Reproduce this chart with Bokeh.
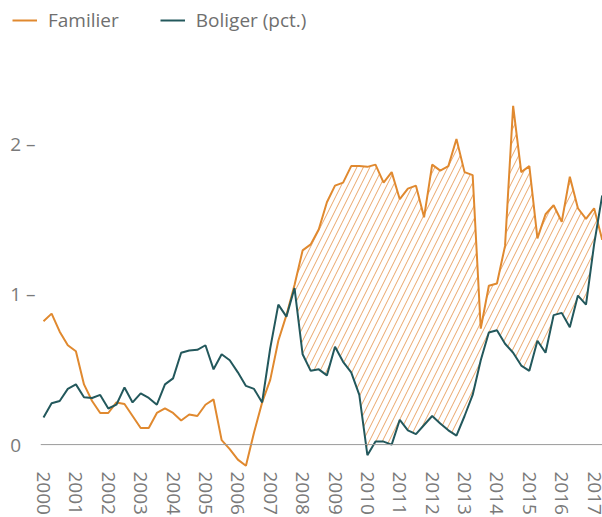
import math
from bokeh.plotting import figure
from bokeh.layouts import column
from bokeh.models import (Legend, LegendItem, Span, FixedTicker, Range1d,
                          ColumnDataSource)
from bokeh.embed import file_html
from bokeh.resources import INLINE

# ---- data (quarterly, 2000 Q1 .. 2017 Q2) ----
years = list(range(2000, 2018))
familier = [0.82, 0.87, 0.75, 0.66, 0.62, 0.40, 0.29, 0.21,
            0.21, 0.28, 0.27, 0.19, 0.11, 0.11, 0.21, 0.24,
            0.21, 0.16, 0.20, 0.19, 0.265, 0.30, 0.03, -0.03,
            -0.10, -0.14, 0.08, 0.28, 0.43, 0.69, 0.86, 1.06,
            1.29, 1.33, 1.43, 1.61, 1.72, 1.74, 1.85, 1.85,
            1.845, 1.86, 1.74, 1.81, 1.63, 1.70, 1.72, 1.51,
            1.86, 1.82, 1.85, 2.03, 1.81, 1.79, 0.77, 1.055,
            1.07, 1.32, 2.25, 1.81, 1.85, 1.37, 1.53, 1.59,
            1.48, 1.78, 1.57, 1.50, 1.57, 1.36]
boliger = [0.18, 0.275, 0.29, 0.37, 0.40, 0.315, 0.31, 0.33,
           0.24, 0.265, 0.38, 0.28, 0.34, 0.31, 0.265, 0.40,
           0.44, 0.61, 0.625, 0.63, 0.66, 0.50, 0.60, 0.56,
           0.48, 0.39, 0.37, 0.28, 0.64, 0.93, 0.85, 1.04,
           0.60, 0.49, 0.50, 0.46, 0.65, 0.55, 0.48, 0.33,
           -0.07, 0.02, 0.02, 0.00, 0.165, 0.095, 0.07, 0.13,
           0.19, 0.14, 0.095, 0.06, 0.19, 0.33, 0.56, 0.745,
           0.76, 0.67, 0.61, 0.525, 0.49, 0.69, 0.61, 0.86,
           0.875, 0.78, 0.99, 0.93, 1.33, 1.655]
quarters = [2000 + i / 4 for i in range(len(familier))]
series_names = ["Familier", "Boliger (pct.)"]
y_labels = {0: "0\u2002\u00a0", 1: "1 \u2013", 2: "2 \u2013"}
hatch_from = 29  # hatched gap starts after the 2007 crossing

ORANGE = "#E0892F"
TEAL = "#23585C"
HATCH = "#EAA66A"
GREY_TXT = "#7a7a7a"
FONT = "Open Sans"

# ---- hatched region where Familier > Boliger (crossings inserted) ----
fx, flo, fhi = [], [], []
n = len(familier)
for i in range(hatch_from, n):
    d0 = familier[i] - boliger[i]
    if d0 >= 0:
        fx.append(quarters[i]); flo.append(boliger[i]); fhi.append(familier[i])
    if i + 1 < n:
        d1 = familier[i + 1] - boliger[i + 1]
        if d0 * d1 < 0:
            t = d0 / (d0 - d1)
            xc = quarters[i] + t * (quarters[i + 1] - quarters[i])
            yc = boliger[i] + t * (boliger[i + 1] - boliger[i])
            fx.append(xc); flo.append(yc); fhi.append(yc)
fill_src = ColumnDataSource(dict(x=fx, lo=flo, hi=fhi))

# ---- main chart ----
p = figure(width=602, height=477, output_backend="svg", toolbar_location=None,
           x_range=Range1d(1999.907, 2017.259),
           y_range=Range1d(-0.1587, 2.6843),
           min_border_left=40, min_border_right=0, min_border_top=0,
           min_border_bottom=47)
p.outline_line_color = None
p.xgrid.visible = False
p.ygrid.visible = False
p.background_fill_color = "white"
p.border_fill_color = "white"

p.add_layout(Span(location=0, dimension="width", line_color="#9a9a9a",
                  line_width=1))

p.varea(x="x", y1="lo", y2="hi", source=fill_src, fill_color=None,
        fill_alpha=0, hatch_pattern="/", hatch_color=HATCH,
        hatch_scale=13, hatch_weight=1)

p.line(quarters, familier, line_color=ORANGE, line_width=2)
p.line(quarters, boliger, line_color=TEAL, line_width=2)

xa = p.xaxis[0]
xa.ticker = FixedTicker(ticks=years)
xa.major_label_orientation = -math.pi / 2
xa.axis_line_color = None
xa.major_tick_line_color = None
xa.minor_tick_line_color = None
xa.major_tick_out = 0
xa.major_tick_in = 0
xa.major_label_standoff = 3
xa.major_label_text_font = FONT
xa.major_label_text_font_size = "19px"
xa.major_label_text_color = GREY_TXT

ya = p.yaxis[0]
ya.ticker = FixedTicker(ticks=[0, 1, 2])
ya.major_label_overrides = y_labels
ya.axis_line_color = None
ya.major_tick_line_color = None
ya.minor_tick_line_color = None
ya.major_tick_out = 0
ya.major_tick_in = 0
ya.major_label_standoff = 5
ya.major_label_text_font = FONT
ya.major_label_text_font_size = "19px"
ya.major_label_text_color = GREY_TXT

# ---- legend strip (legend-only figure; its renderers draw nothing) ----
pl = figure(width=602, height=40, output_backend="svg", toolbar_location=None,
            x_range=Range1d(0, 1), y_range=Range1d(0, 1),
            x_axis_location=None, y_axis_location=None,
            min_border_left=0, min_border_right=0, min_border_top=0,
            min_border_bottom=0)
pl.outline_line_color = None
pl.grid.visible = False

loc_x = -29
if "frame_align" in pl.properties():
    pl.frame_align = False
    p.frame_align = False
    loc_x = 12

lr1 = pl.line([0.0], [float("nan")], line_color=ORANGE, line_width=2)
lr2 = pl.line([0.0], [float("nan")], line_color=TEAL, line_width=2)
legend = Legend(items=[LegendItem(label=series_names[0], renderers=[lr1]),
                       LegendItem(label=series_names[1], renderers=[lr2])],
                orientation="horizontal", location=(loc_x, 7),
                border_line_color=None, background_fill_alpha=0,
                label_text_font=FONT, label_text_font_size="19px",
                label_text_color="#6f6f6f", glyph_width=25, glyph_height=20,
                label_standoff=11, spacing=41, padding=0, margin=0)
pl.add_layout(legend)

layout = column(pl, p, spacing=0)
open("out.html", "w").write(file_html(layout, INLINE))
